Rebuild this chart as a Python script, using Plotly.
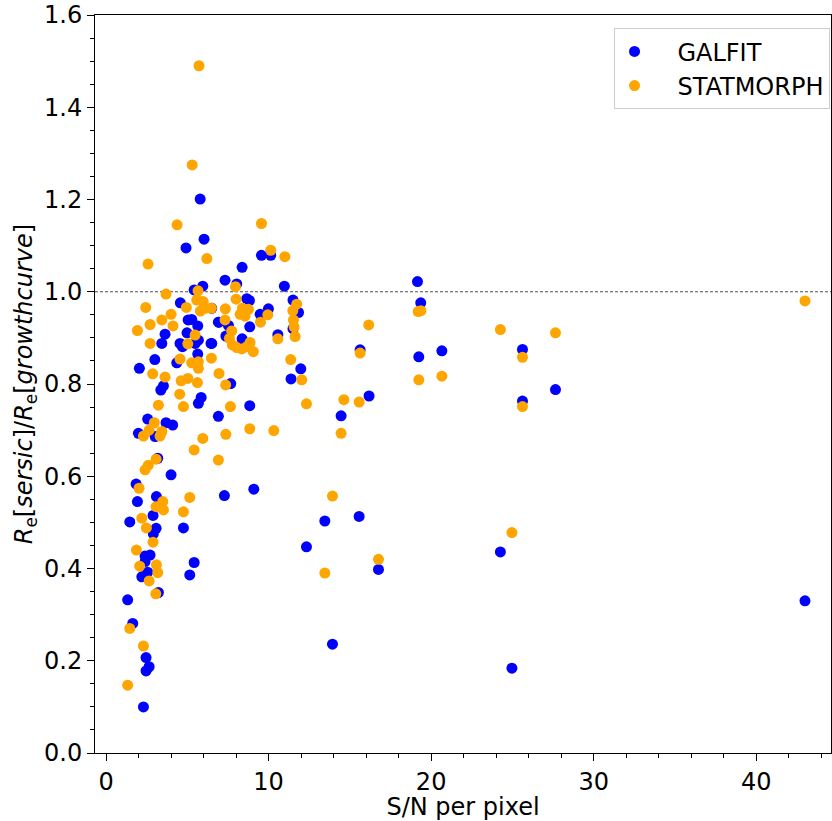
import plotly.graph_objects as go

# GALFIT (blue)
galfit_sn = [5.79, 6.03, 4.92, 9.56, 10.13, 8.37, 7.32, 8.04, 10.97, 5.95, 5.42, 8.66, 8.82, 11.5, 4.57,
             11.84, 9.48, 9.99, 6.5, 6.95, 7.53, 8.84, 11.5, 10.57, 7.37, 8.37, 6.5, 11.98, 11.38, 5.05,
             5.27, 5.64, 6.91, 3.63, 4.98, 3.43, 4.55, 4.7, 5.48, 5.68, 6.46, 5.64, 3.0, 4.35, 2.05,
             3.53, 3.37, 5.85, 5.68, 7.67, 8.84, 6.91, 2.56, 3.69, 4.1, 1.99, 3.02, 3.18, 4.0, 1.85,
             1.93, 3.1, 7.28, 9.09, 1.46, 2.89, 3.08, 2.91, 4.76, 2.4, 2.71, 2.4, 2.56, 5.42, 5.15,
             2.2, 3.22, 1.33, 1.64, 2.46, 2.65, 2.46, 2.3,
             19.16, 19.36, 15.63, 19.24, 20.66, 16.18, 14.46, 13.46, 15.57, 12.33, 16.76, 13.93,
             25.62, 27.65, 25.62, 24.26, 24.97, 43.0]
galfit_ratio = [1.201, 1.114, 1.095, 1.079, 1.079, 1.053, 1.025, 1.017, 1.012, 1.012, 1.004, 0.985, 0.981, 0.982, 0.976,
                0.955, 0.951, 0.963, 0.964, 0.934, 0.927, 0.924, 0.92, 0.907, 0.904, 0.898, 0.888, 0.833, 0.811, 0.939,
                0.940, 0.926, 0.934, 0.908, 0.911, 0.888, 0.888, 0.881, 0.888, 0.895, 0.888, 0.865, 0.853, 0.846, 0.834,
                0.796, 0.787, 0.771, 0.758, 0.801, 0.753, 0.730, 0.724, 0.716, 0.711, 0.693, 0.686, 0.639, 0.603, 0.583,
                0.545, 0.556, 0.558, 0.572, 0.501, 0.515, 0.487, 0.475, 0.488, 0.427, 0.429, 0.415, 0.392, 0.413, 0.386,
                0.382, 0.348, 0.332, 0.281, 0.207, 0.187, 0.178, 0.100,
                1.022, 0.976, 0.874, 0.859, 0.872, 0.774, 0.731, 0.503, 0.513, 0.447, 0.398, 0.236,
                0.875, 0.788, 0.763, 0.436, 0.184, 0.330]

# STATMORPH (orange)
statmorph_sn = [5.72, 5.3, 9.56, 4.37, 2.58, 10.13, 11.0, 6.2, 7.96, 3.69, 5.66, 8.0, 5.95, 6.48, 11.73,
                11.49, 7.34, 8.39, 8.76, 8.25, 8.55, 9.95, 7.32, 9.5, 11.53, 11.57, 11.63, 10.57, 7.73, 7.59,
                7.77, 8.04, 8.35, 8.66, 8.86, 9.06, 6.48, 6.95, 7.36, 11.36, 12.04, 7.65, 5.95, 7.37, 8.84,
                10.32, 6.91, 5.58, 5.98, 5.8, 6.1, 2.44, 4.94, 4.0, 2.71, 3.43, 4.12, 1.93, 5.48, 2.71,
                5.03, 4.55, 5.27, 5.68, 5.68, 2.87, 3.63, 4.62, 5.03, 5.62, 4.53, 4.76, 3.22, 2.97, 2.3,
                3.43, 3.32, 2.65, 5.42, 3.08, 2.6, 2.4, 2.03, 3.49, 3.08, 3.53, 5.15, 4.76, 2.2, 2.48,
                2.89, 1.87, 2.07, 3.1, 3.18, 2.65, 3.06, 1.46, 2.3, 1.33,
                12.33, 14.63, 15.57, 14.46, 16.16, 19.2, 19.37, 15.63, 19.24, 20.66, 13.93, 13.46, 16.76,
                24.26, 27.65, 25.62, 25.62, 24.97, 43.0]
statmorph_ratio = [1.49, 1.275, 1.148, 1.145, 1.060, 1.090, 1.076, 1.072, 1.011, 0.995, 1.002, 0.984, 0.979, 0.964, 0.973,
                   0.959, 0.963, 0.964, 0.962, 0.951, 0.947, 0.950, 0.939, 0.934, 0.939, 0.924, 0.903, 0.898, 0.915, 0.899,
                   0.885, 0.879, 0.876, 0.881, 0.890, 0.870, 0.856, 0.823, 0.798, 0.853, 0.809, 0.751, 0.682, 0.691, 0.703,
                   0.699, 0.635, 0.982, 0.978, 0.958, 0.964, 0.966, 0.966, 0.951, 0.929, 0.939, 0.926, 0.916, 0.906, 0.888,
                   0.887, 0.854, 0.846, 0.848, 0.834, 0.822, 0.815, 0.807, 0.812, 0.803, 0.778, 0.751, 0.754, 0.716, 0.687,
                   0.697, 0.687, 0.700, 0.657, 0.637, 0.624, 0.614, 0.574, 0.545, 0.534, 0.527, 0.554, 0.523, 0.509, 0.488,
                   0.457, 0.440, 0.405, 0.408, 0.391, 0.373, 0.345, 0.270, 0.232, 0.147,
                   0.757, 0.766, 0.761, 0.693, 0.928, 0.957, 0.959, 0.867, 0.809, 0.817, 0.557, 0.390, 0.420,
                   0.918, 0.911, 0.858, 0.751, 0.478, 0.980]

x_tickvals = [0, 10, 20, 30, 40]
y_tickvals = [0.0, 0.2, 0.4, 0.6, 0.8, 1.0, 1.2, 1.4, 1.6]

FONT = "DejaVu Sans"
FS = 24
PAD = "\u00a0\u00a0\u00a0"

fig = go.Figure()
fig.add_trace(go.Scatter(x=galfit_sn, y=galfit_ratio, mode="markers", name=PAD + "GALFIT",
                         legendgroup="g1",
                         marker=dict(color="#0000ff", size=11, line=dict(width=0))))
fig.add_trace(go.Scatter(x=statmorph_sn, y=statmorph_ratio, mode="markers", name=PAD + "STATMORPH",
                         legendgroup="g2",
                         marker=dict(color="#ffa500", size=11, line=dict(width=0))))

fig.add_shape(type="line", xref="x domain", yref="y", x0=0, x1=1, y0=1.0, y1=1.0,
              line=dict(color="#222222", width=0.8, dash="3px,2px"), layer="below")

axis_common = dict(showline=True, linecolor="black", linewidth=1, mirror=True,
                   ticks="outside", ticklen=7, tickwidth=1, tickcolor="black",
                   showgrid=False, zeroline=False,
                   tickfont=dict(family=FONT, size=FS, color="black"))

fig.update_xaxes(range=[-0.68, 44.6], tickvals=x_tickvals,
                 minor=dict(dtick=2, ticks="outside", ticklen=4, tickwidth=1, tickcolor="black", tick0=0),
                 title=dict(text="S/N per pixel", font=dict(family=FONT, size=FS, color="black"), standoff=0),
                 **axis_common)
fig.update_yaxes(range=[0, 1.6], tickvals=y_tickvals, tickformat=".1f",
                 minor=dict(dtick=0.05, ticks="outside", ticklen=4, tickwidth=1, tickcolor="black", tick0=0),
                 title=dict(text="<i>R</i><sub>e</sub>[<i>sersic</i>]/<i>R</i><sub>e</sub>[<i>growthcurve</i>]",
                            font=dict(family=FONT, size=FS, color="black"), standoff=4),
                 **axis_common)

fig.update_layout(
    width=832, height=821,
    margin=dict(l=95, r=1, t=15, b=68),
    plot_bgcolor="white", paper_bgcolor="white",
    font=dict(family=FONT, size=FS, color="black"),
    legend=dict(x=0.998, y=0.982, xanchor="right", yanchor="top",
                bgcolor="rgba(255,255,255,0.8)", bordercolor="#cccccc", borderwidth=1,
                font=dict(family=FONT, size=FS, color="black"), tracegroupgap=0),
    showlegend=True,
)

fig.write_html("out.html")
